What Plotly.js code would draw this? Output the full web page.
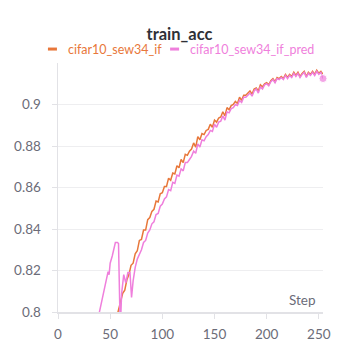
<!DOCTYPE html>
<html>
<head>
<meta charset="utf-8">
<script src="https://cdn.plot.ly/plotly-3.0.1.min.js"></script>
<style>
  html, body { margin: 0; padding: 0; background: #fff; }
  #fig { width: 359px; height: 359px; }
</style>
</head>
<body>
<div id="fig"></div>
<script>
// run names
var runNames = ['cifar10_sew34_if', 'cifar10_sew34_if_pred'];

// cifar10_sew34_if
var ifSteps = [56, 58, 60, 62, 64, 66, 68, 70, 72, 74, 76, 78, 80, 82, 84, 86, 88, 90, 92, 94,
  96, 98, 100, 102, 104, 106, 108, 110, 112, 114, 116, 118, 120, 122, 124, 126, 128, 130, 132, 134,
  136, 138, 140, 142, 144, 146, 148, 150, 152, 154, 156, 158, 160, 162, 164, 166, 168, 170, 172, 174,
  176, 178, 180, 182, 184, 186, 188, 190, 192, 194, 196, 198, 200, 202, 204, 206, 208, 210, 212, 214,
  216, 218, 220, 222, 224, 226, 228, 230, 232, 234, 236, 238, 240, 242, 244, 246, 248, 250, 252, 254];
var ifAcc = [0.797, 0.8015, 0.8045, 0.809, 0.8105, 0.8155, 0.818, 0.8225, 0.8235, 0.828,
  0.8295, 0.8345, 0.835, 0.8395, 0.8395, 0.8445, 0.8455, 0.8485, 0.8495, 0.8535,
  0.853, 0.857, 0.8575, 0.8605, 0.8605, 0.8645, 0.8635, 0.867, 0.8665, 0.8705,
  0.8695, 0.8735, 0.872, 0.876, 0.8755, 0.8775, 0.8785, 0.8815, 0.8795, 0.8845,
  0.883, 0.886, 0.8855, 0.8875, 0.888, 0.8905, 0.889, 0.8925, 0.8915, 0.8935,
  0.894, 0.8965, 0.8945, 0.8985, 0.8975, 0.8995, 0.900, 0.9015, 0.9005, 0.9035,
  0.902, 0.9045, 0.9045, 0.9055, 0.9065, 0.905, 0.9075, 0.908, 0.9065, 0.9095,
  0.9085, 0.910, 0.9105, 0.9095, 0.9115, 0.9125, 0.911, 0.913, 0.9125, 0.9135,
  0.9125, 0.9145, 0.913, 0.9145, 0.9135, 0.9155, 0.914, 0.9155, 0.9135, 0.915,
  0.916, 0.9135, 0.9155, 0.9145, 0.916, 0.9145, 0.9165, 0.915, 0.916, 0.9145];

// cifar10_sew34_if_pred
var predSteps = [38, 40, 42, 44, 46, 48, 49, 50, 52, 53, 54, 55, 57, 58, 59.3, 60, 61, 63, 65, 67,
  69, 70.5, 72, 74, 76, 78, 80, 82, 84, 86, 88, 90, 92, 94, 96, 98, 100, 102, 104, 106,
  108, 110, 112, 114, 116, 118, 120, 122, 124, 126, 128, 130, 132, 134, 136, 138, 140, 142, 144, 146,
  148, 150, 152, 154, 156, 158, 160, 162, 164, 166, 168, 170, 172, 174, 176, 178, 180, 182, 184, 186,
  188, 190, 192, 194, 196, 198, 200, 202, 204, 206, 208, 210, 212, 214, 216, 218, 220, 222, 224, 226,
  228, 230, 232, 234, 236, 238, 240, 242, 244, 246, 248, 250, 252, 254];
var predAcc = [0.796, 0.8005, 0.805, 0.809, 0.815, 0.8195, 0.818, 0.8235, 0.827, 0.829,
  0.8315, 0.8335, 0.8335, 0.833, 0.800, 0.796, 0.809, 0.818, 0.814, 0.819,
  0.819, 0.807, 0.815, 0.8215, 0.8255, 0.828, 0.830, 0.8335, 0.8345, 0.838,
  0.8395, 0.8425, 0.8435, 0.847, 0.8475, 0.851, 0.852, 0.8545, 0.8555, 0.859,
  0.8585, 0.8625, 0.862, 0.866, 0.8655, 0.869, 0.868, 0.872, 0.872, 0.8735,
  0.875, 0.8775, 0.8765, 0.881, 0.8795, 0.883, 0.8825, 0.8845, 0.8855, 0.8875,
  0.887, 0.8905, 0.889, 0.8915, 0.892, 0.8945, 0.8925, 0.8965, 0.896, 0.898,
  0.8985, 0.900, 0.8995, 0.902, 0.901, 0.9035, 0.9035, 0.9045, 0.9055, 0.904,
  0.9065, 0.9075, 0.9055, 0.9085, 0.9075, 0.9095, 0.910, 0.909, 0.911, 0.912,
  0.9105, 0.9125, 0.912, 0.913, 0.912, 0.914, 0.9125, 0.914, 0.913, 0.915,
  0.9135, 0.915, 0.913, 0.9145, 0.9155, 0.913, 0.915, 0.914, 0.9155, 0.914,
  0.916, 0.9145, 0.9155, 0.9125];

var yTicks = [0.8, 0.82, 0.84, 0.86, 0.88, 0.9];
var xTicks = [0, 50, 100, 150, 200, 250];

var orange = '#e8773a';
var pink = '#ef7fdc';
var gray = '#6b6c78';
var fontFam = 'Lato, "Noto Sans", sans-serif';

// only the last pred point gets a dot
var predDot = predAcc.map(function (v, i) { return i === predAcc.length - 1 ? 8 : 0; });

var line1 = { x: ifSteps, y: ifAcc, name: runNames[0], mode: 'lines',
  line: { color: orange, width: 1.5 }, showlegend: false };
var line2 = { x: predSteps, y: predAcc, name: runNames[1], mode: 'lines+markers',
  line: { color: pink, width: 1.5 }, marker: { size: predDot, color: pink },
  cliponaxis: false, showlegend: false };
var data = [line1, line2];

var layout = {
  width: 359, height: 359,
  margin: { l: 58, r: 36, t: 63, b: 47 },
  paper_bgcolor: '#fff',
  plot_bgcolor: '#fff',
  font: { family: fontFam, color: gray },
  title: {
    text: '<b>train_acc</b>',
    font: { family: fontFam, size: 16.5, color: '#2f3037' },
    x: 0.5, xanchor: 'center',
    yref: 'container', y: 0.905, yanchor: 'middle'
  },
  xaxis: {
    range: [0, 254],
    tickvals: xTicks,
    showgrid: false,
    zeroline: false,
    showline: true, linecolor: '#e2e2e6', linewidth: 1.5,
    ticks: 'outside', ticklen: 5, tickcolor: '#e2e2e6', tickwidth: 1,
    ticklabelstandoff: 4,
    tickfont: { family: fontFam, size: 13.5, color: gray }
  },
  yaxis: {
    range: [0.8, 0.92],
    tickvals: yTicks,
    ticktext: yTicks.map(function (v) { return String(v); }),
    showgrid: true, gridcolor: '#eeeef0', gridwidth: 1,
    zeroline: false,
    showline: true, linecolor: '#e2e2e6', linewidth: 1.5,
    ticks: 'outside', ticklen: 5, tickcolor: '#e2e2e6', tickwidth: 1,
    ticklabelstandoff: 8,
    tickfont: { family: fontFam, size: 13.5, color: gray }
  },
  shapes: [
    { type: 'line', xref: 'paper', yref: 'paper', x0: -0.038, x1: -0.004, y0: 1.056, y1: 1.056,
      line: { color: orange, width: 3 } },
    { type: 'line', xref: 'paper', yref: 'paper', x0: 0.423, x1: 0.457, y0: 1.056, y1: 1.056,
      line: { color: pink, width: 3 } }
  ],
  annotations: [
    { xref: 'paper', yref: 'paper', x: 0.030, y: 1.056, xanchor: 'left', yanchor: 'middle',
      text: runNames[0], showarrow: false, font: { family: fontFam, size: 12.5, color: orange } },
    { xref: 'paper', yref: 'paper', x: 0.491, y: 1.056, xanchor: 'left', yanchor: 'middle',
      text: runNames[1], showarrow: false, font: { family: fontFam, size: 12.5, color: pink } },
    { xref: 'paper', yref: 'paper', x: 0.982, y: 0.048, xanchor: 'right', yanchor: 'middle',
      text: 'Step', showarrow: false, font: { family: fontFam, size: 13.5, color: gray } }
  ]
};

Plotly.newPlot('fig', data, layout, { displayModeBar: false, staticPlot: true });
</script>
</body>
</html>
